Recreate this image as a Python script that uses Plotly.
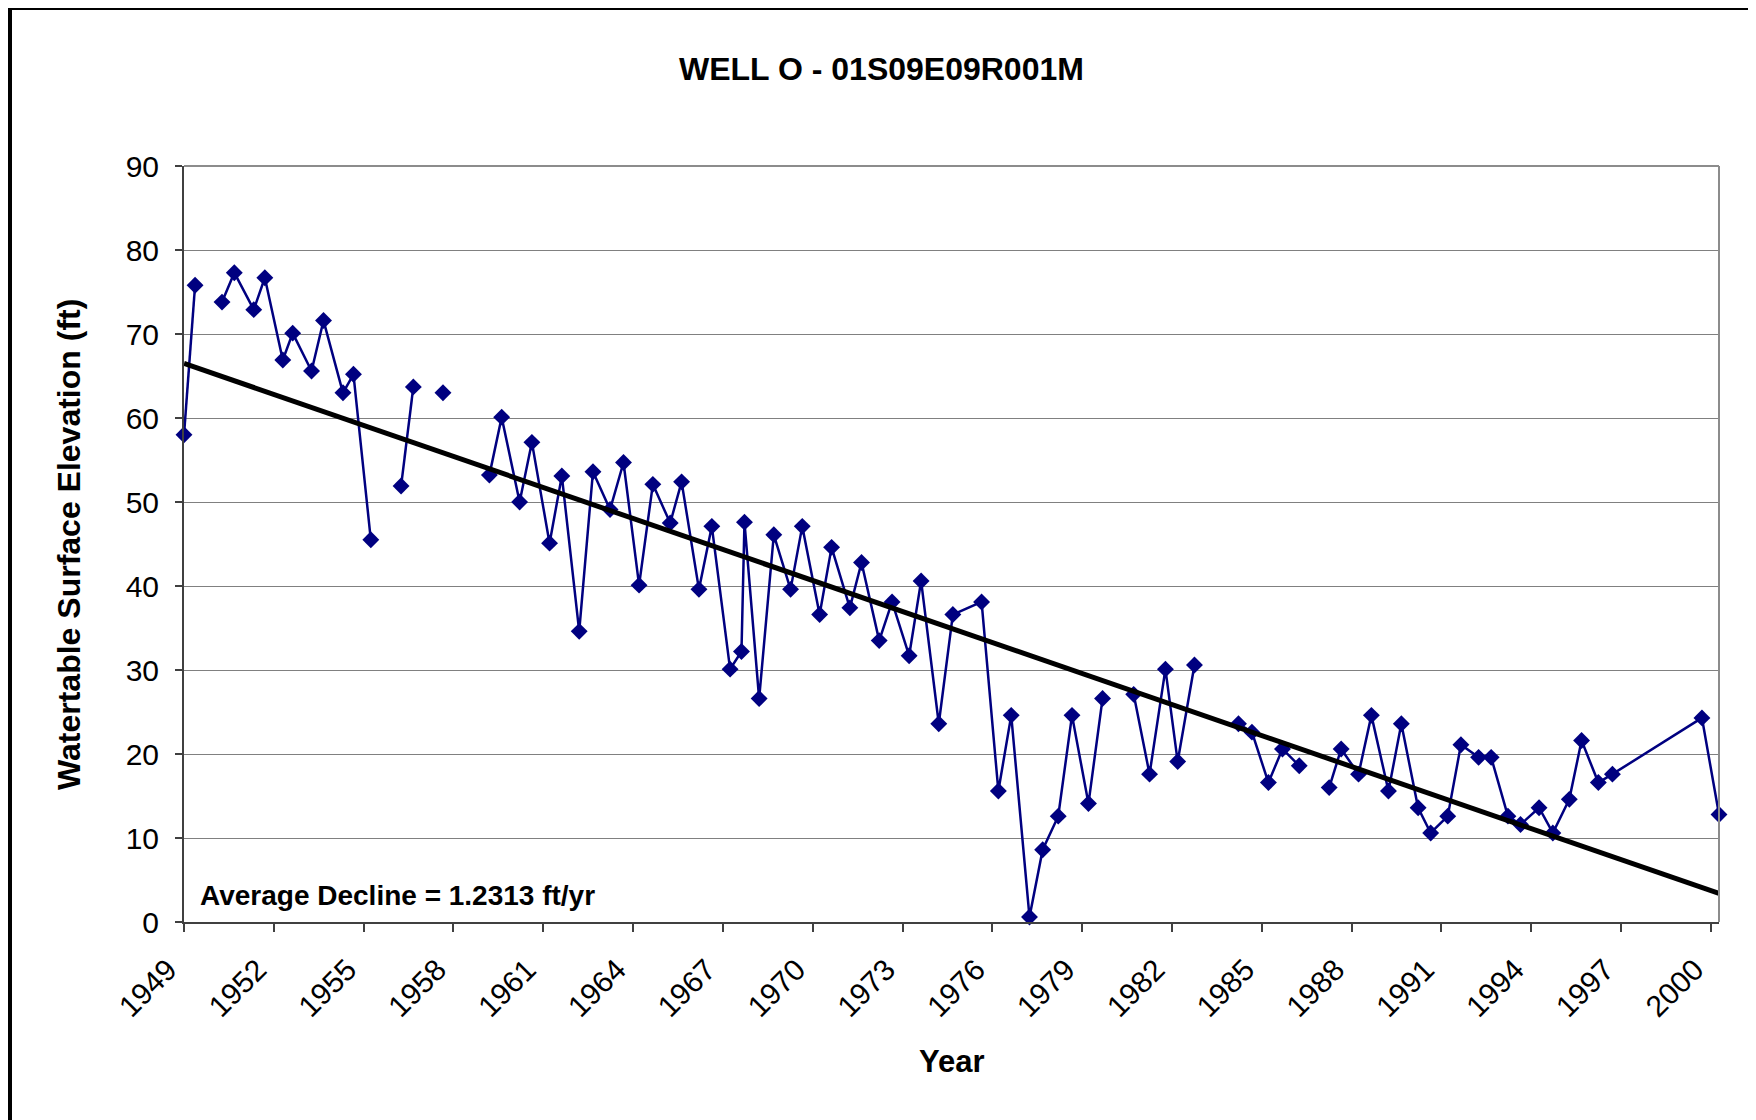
import plotly.graph_objects as go

# ---- data (None marks a gap in the record) ----
years = [
    1949.00, 1949.37, None,
    1950.27, 1950.68, 1951.33, 1951.70, 1952.30, 1952.63, 1953.26, 1953.66,
    1954.31, 1954.66, 1955.24, None,
    1956.25, 1956.66, None,
    1957.65, None,
    1959.20, 1959.61, 1960.21, 1960.62, 1961.21, 1961.62, 1962.20, 1962.66,
    1963.23, 1963.68, 1964.20, 1964.66, 1965.24, 1965.62, 1966.20, 1966.63,
    1967.24, 1967.62, 1967.72, 1968.21, 1968.70, 1969.26, 1969.65, 1970.23,
    1970.63, 1971.24, 1971.63, 1972.22, 1972.65, 1973.22, 1973.62, 1974.21,
    1974.68, 1975.64, 1976.20, 1976.63, 1977.24, 1977.68, 1978.20, 1978.66,
    1979.21, 1979.68, None,
    1980.72, 1981.25, 1981.78, 1982.19, 1982.75, None,
    1984.22, 1984.67, 1985.22, 1985.69, 1986.25, None,
    1987.25, 1987.65, 1988.23, 1988.66, 1989.23, 1989.66, 1990.22, 1990.64,
    1991.21, 1991.65, 1992.24, 1992.66, 1993.22, 1993.64, 1994.26, 1994.72,
    1995.27, 1995.68, 1996.24, 1996.71, 1999.70, 2000.27,
]
levels = [
    58.0, 75.8, None,
    73.8, 77.3, 72.9, 76.7, 66.9, 70.1, 65.6, 71.6,
    63.0, 65.2, 45.5, None,
    51.9, 63.7, None,
    63.0, None,
    53.2, 60.1, 50.0, 57.1, 45.1, 53.1, 34.6, 53.6,
    49.1, 54.7, 40.1, 52.1, 47.5, 52.4, 39.6, 47.1,
    30.1, 32.2, 47.6, 26.6, 46.1, 39.6, 47.1, 36.6,
    44.6, 37.4, 42.8, 33.5, 38.1, 31.7, 40.6, 23.6,
    36.6, 38.1, 15.6, 24.6, 0.6, 8.6, 12.6, 24.6,
    14.1, 26.6, None,
    27.1, 17.6, 30.1, 19.1, 30.6, None,
    23.6, 22.6, 16.6, 20.6, 18.6, None,
    16.0, 20.6, 17.6, 24.6, 15.6, 23.6, 13.6, 10.6,
    12.6, 21.1, 19.6, 19.6, 12.6, 11.6, 13.6, 10.6,
    14.6, 21.6, 16.6, 17.6, 24.3, 12.8,
]

trend_years = [1949.0, 2000.27]
trend_levels = [66.5, 3.4]

x_range = [1949.0, 2000.27]
y_range = [0, 90]

title_text = "WELL O - 01S09E09R001M"
x_title = "Year"
y_title = "Watertable Surface Elevation (ft)"
note_text = "Average Decline = 1.2313 ft/yr"

FONT = "Liberation Sans, Arial, sans-serif"

# ---- layout geometry (pixels, compensating the 8px page margin) ----
OFF = 8
W, H = 1756, 1120
L, R, T, B = 184 - OFF, 1719 - OFF, 166 - OFF, 922 - OFF
PW, PH = R - L, B - T


def px_x(p):
    return (p - OFF - L) / PW


def px_y(p):
    return (B - (p - OFF)) / PH


fig = go.Figure()

fig.add_trace(go.Scatter(
    x=years, y=levels, mode="lines+markers",
    connectgaps=False, cliponaxis=False,
    line=dict(color="#000080", width=2.5),
    marker=dict(symbol="diamond", size=13, color="#000080"),
    showlegend=False,
))

fig.add_trace(go.Scatter(
    x=trend_years, y=trend_levels, mode="lines",
    line=dict(color="black", width=5),
    showlegend=False,
))

fig.update_layout(
    width=W, height=H,
    margin=dict(l=L, r=W - R, t=T, b=H - B, pad=0),
    paper_bgcolor="white", plot_bgcolor="white",
    font=dict(family=FONT, color="black"),
    xaxis=dict(
        range=x_range, tick0=1949, dtick=3, tickmode="linear",
        tickangle=-45, ticks="outside", ticklen=8, tickwidth=1.5,
        tickcolor="#404040", tickformat="d",
        tickfont=dict(size=30, family=FONT, color="black"),
        showgrid=False, zeroline=False,
        showline=True, linecolor="#404040", linewidth=2,
        ticklabelstandoff=8, ticklabelshift=-16,
    ),
    yaxis=dict(
        range=y_range, dtick=10, tick0=0, tickmode="linear",
        ticks="outside", ticklen=7, tickwidth=1.5, tickcolor="#404040",
        tickfont=dict(size=30, family=FONT, color="black"),
        showgrid=True, gridcolor="#808080", gridwidth=1,
        zeroline=False,
        showline=True, linecolor="#404040", linewidth=2,
        ticklabelstandoff=10,
    ),
    shapes=[
        # top and right plot border
        dict(type="line", xref="paper", yref="paper", x0=0, x1=1, y0=1, y1=1,
             line=dict(color="#8c8c8c", width=2)),
        dict(type="line", xref="paper", yref="paper", x0=1, x1=1, y0=0, y1=1,
             line=dict(color="#8c8c8c", width=2)),
        # outer black frame
        dict(type="rect", xref="paper", yref="paper",
             x0=px_x(10), x1=px_x(1752), y0=px_y(1140), y1=px_y(8),
             line=dict(color="black", width=4), fillcolor="rgba(0,0,0,0)"),
    ],
    annotations=[
        dict(text=f"<b>{title_text}</b>", xref="paper", yref="paper",
             x=px_x(881), y=px_y(69), xanchor="center", yanchor="middle",
             showarrow=False, font=dict(size=32, family=FONT, color="black")),
        dict(text=f"<b>{x_title}</b>", xref="paper", yref="paper",
             x=px_x(952), y=px_y(1061), xanchor="center", yanchor="middle",
             showarrow=False, font=dict(size=31, family=FONT, color="black")),
        dict(text=f"<b>{y_title}</b>", xref="paper", yref="paper",
             x=px_x(69), y=px_y(545), xanchor="center", yanchor="middle",
             textangle=-90, showarrow=False,
             font=dict(size=32, family=FONT, color="black")),
        dict(text=f"<b>{note_text}</b>", xref="paper", yref="paper",
             x=px_x(198), y=px_y(895), xanchor="left", yanchor="middle",
             showarrow=False, font=dict(size=28, family=FONT, color="black")),
    ],
)

fig.write_html("out.html")
